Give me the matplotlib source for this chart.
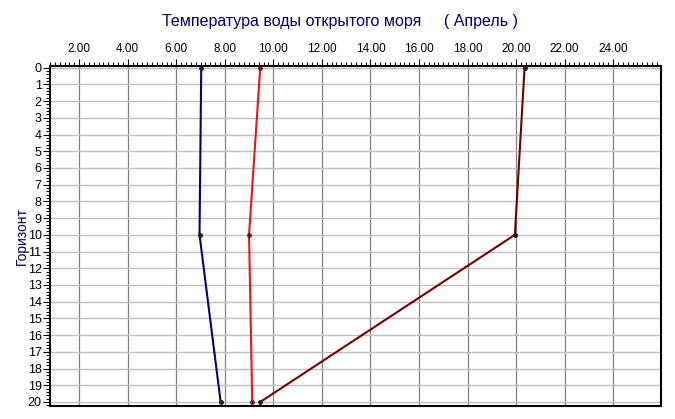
import matplotlib.pyplot as plt
from matplotlib.ticker import MultipleLocator, FormatStrFormatter

plt.rcParams['font.family'] = ['Liberation Sans', 'DejaVu Sans']

# horizon levels and temperatures
horizons = [0, 10, 20]
temp_blue = [7.03, 6.96, 7.83]
temp_red = [9.46, 9.00, 9.13]
temp_maroon = [20.35, 19.95, 9.46]

title_txt = 'Температура воды открытого моря     ( Апрель )'
navy = '#000066'

fig = plt.figure(figsize=(6.75, 4.19), dpi=100)
ax = fig.add_axes([50 / 675, 1 - 406 / 419, 611 / 675, 340 / 419])

ax.plot(temp_blue, horizons, color='#000080', lw=1.5, marker='o', ms=2.5,
        mfc='#202020', mec='#202020', zorder=3)
ax.plot(temp_red, horizons, color='#e01818', lw=1.5, marker='o', ms=2.5,
        mfc='#602020', mec='#602020', zorder=3)
ax.plot(temp_maroon, horizons, color='#700000', lw=1.5, marker='o', ms=2.5,
        mfc='#301010', mec='#301010', zorder=3)

ax.set_xlim(0.8, 25.97)
ax.set_ylim(20.24, -0.1)

ax.xaxis.tick_top()
ax.xaxis.set_major_locator(MultipleLocator(2))
ax.xaxis.set_minor_locator(MultipleLocator(0.2))
ax.xaxis.set_major_formatter(FormatStrFormatter('%.2f'))
ax.yaxis.set_major_locator(MultipleLocator(1))
ax.yaxis.set_minor_locator(MultipleLocator(0.2))

ax.tick_params(axis='x', which='major', length=5, width=0.8, labelsize=8.5, pad=3, colors='black')
ax.tick_params(axis='x', which='minor', length=3, width=0.7)
ax.tick_params(axis='y', which='major', length=5, width=0.8, labelsize=9, pad=1)
ax.tick_params(axis='y', which='minor', length=3, width=0.7)

ax.grid(True, axis='x', which='major', color='#808080', lw=0.9)
ax.grid(True, axis='y', which='major', color='#c0c0c0', lw=1.0)
ax.set_axisbelow(True)

for s in ax.spines.values():
    s.set_color('black')
    s.set_linewidth(1.5)

ax.set_ylabel('Горизонт', color=navy, fontsize=10)
ax.yaxis.set_label_coords(-0.035, 0.5)
fig.text(0.503, 0.948, title_txt, ha='center', va='center', color=navy, fontsize=11.5)

fig.savefig('out.png', dpi=100)
